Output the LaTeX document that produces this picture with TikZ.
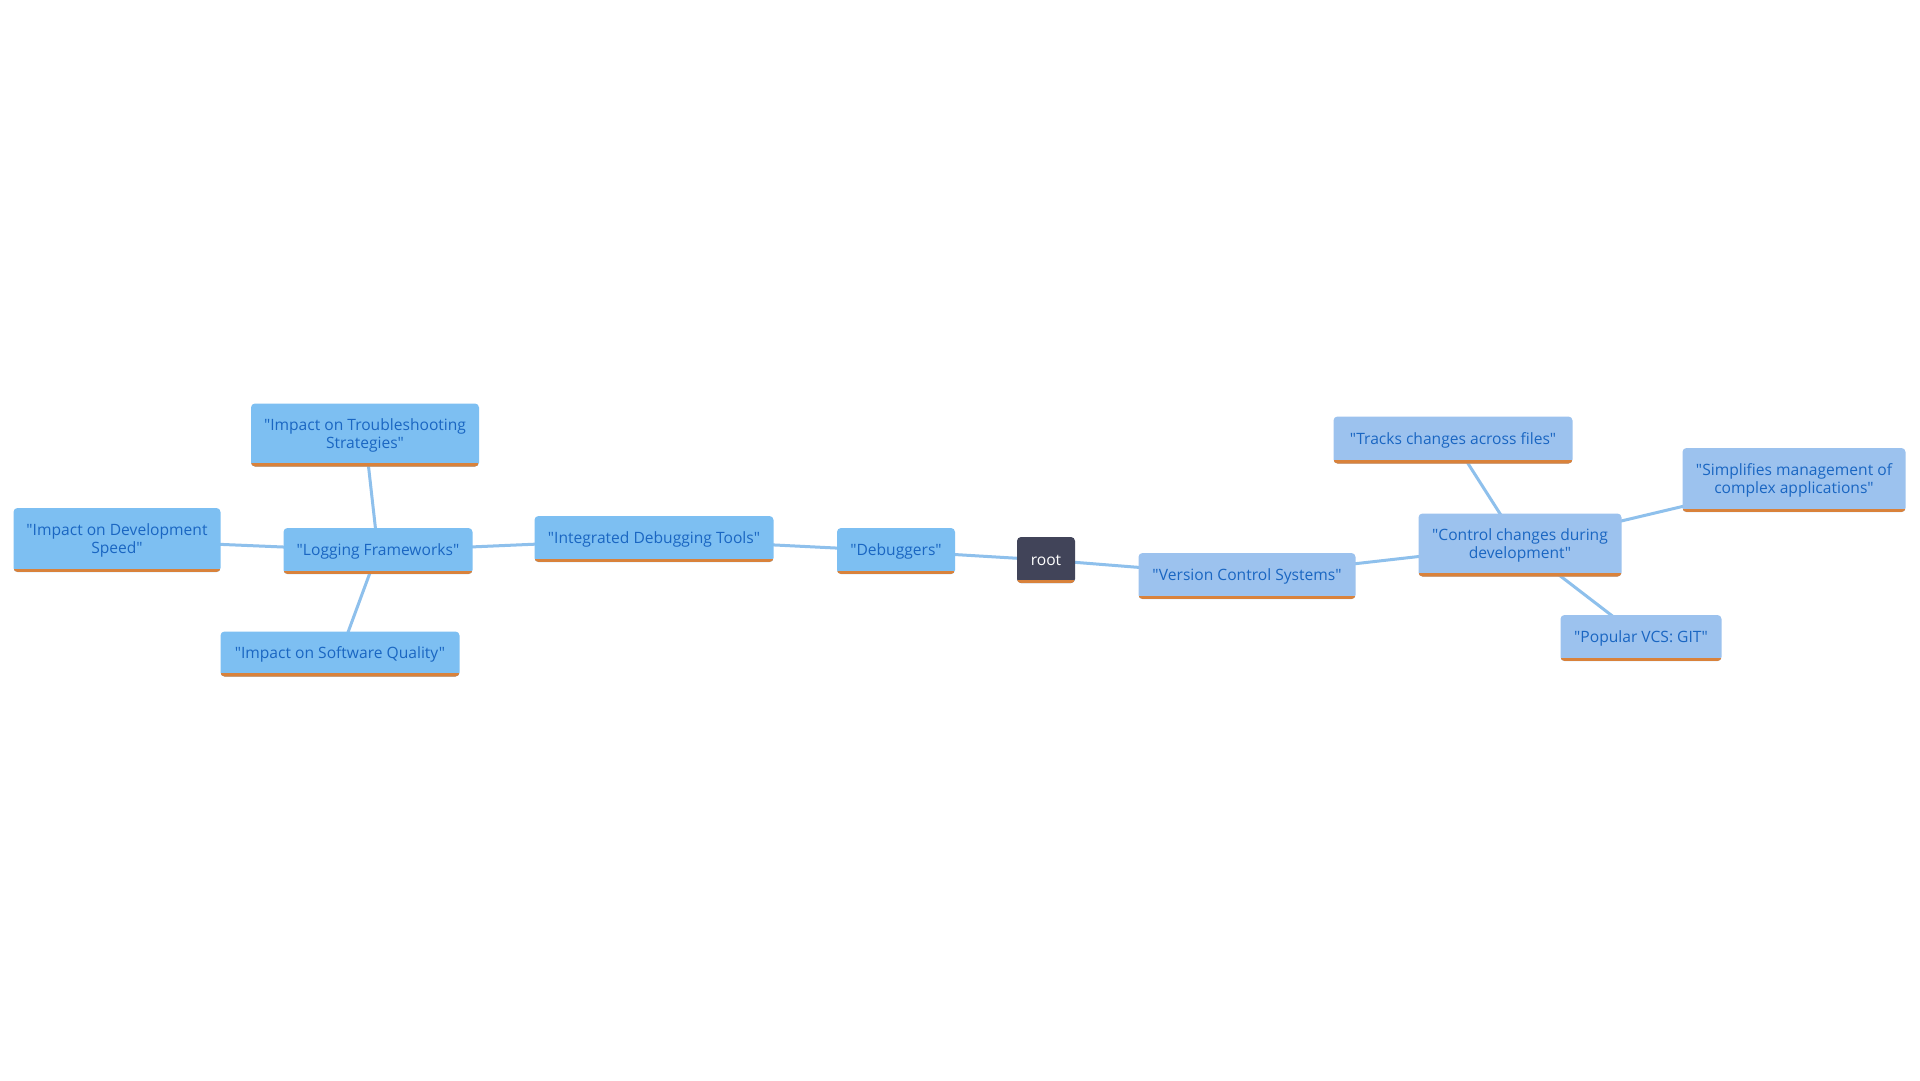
\documentclass[tikz,border=0pt]{standalone}
\usepackage{fontspec}
\setmainfont{Open Sans}[Ligatures=TeXOff]
\usetikzlibrary{backgrounds}

\definecolor{leafblue}{HTML}{7DBFF2}
\definecolor{vcsblue}{HTML}{9CC2EE}
\definecolor{textblue}{HTML}{1A66C2}
\definecolor{rootgray}{HTML}{414459}
\definecolor{barorange}{HTML}{D9823B}
\definecolor{linkblue}{HTML}{8EC0EC}

\begin{document}
\begin{tikzpicture}[
    x=1pt, y=-1pt,
    font=\fontsize{15.6}{18}\selectfont,
    box/.style={rounded corners=4pt, align=center, inner sep=0pt, minimum height=46pt,
        path picture={\fill[barorange, sharp corners] (path picture bounding box.south west)
            rectangle ([yshift=3.5pt]path picture bounding box.south east);}},
    dbox/.style={box, fill=leafblue, text=textblue},
    vbox/.style={box, fill=vcsblue, text=textblue},
    rbox/.style={box, fill=rootgray, text=white},
    link/.style={draw=linkblue, line width=3pt},
]
\useasboundingbox (0,0) rectangle (1920,1080);

% centre
\node[rbox, minimum width=58pt] (root) at (1046,560) {root};

% debugging branch
\node[dbox, minimum width=118pt] (debuggers) at (896,551) {"Debuggers"};
\node[dbox, minimum width=239pt] (idt) at (654,539) {"Integrated Debugging Tools"};
\node[dbox, minimum width=189pt] (logging) at (378,551) {"Logging Frameworks"};
\node[dbox, minimum width=228pt, minimum height=63pt] (trouble) at (365,435) {"Impact on Troubleshooting\\Strategies"};
\node[dbox, minimum width=207pt, minimum height=64pt] (speed) at (117,540) {"Impact on Development\\Speed"};
\node[dbox, minimum width=239pt, minimum height=45pt] (quality) at (340,654) {"Impact on Software Quality"};

% version control branch
\node[vbox, minimum width=217pt] (vcs) at (1247,576) {"Version Control Systems"};
\node[vbox, minimum width=203pt, minimum height=63pt] (control) at (1520,545) {"Control changes during\\development"};
\node[vbox, minimum width=239pt, minimum height=47pt] (tracks) at (1453,440) {"Tracks changes across files"};
\node[vbox, minimum width=223pt, minimum height=64pt] (simplifies) at (1794,480) {"Simplifies management of\\complex applications"};
\node[vbox, minimum width=161pt] (git) at (1641,638) {"Popular VCS: GIT"};

% links behind the boxes
\begin{scope}[on background layer]
    \fill[white] (0,0) rectangle (1920,1080);
    \foreach \a/\b in {root/debuggers, debuggers/idt, idt/logging, logging/trouble,
        logging/speed, logging/quality, root/vcs, vcs/control, control/tracks,
        control/simplifies, control/git} {
        \draw[link] (\a.center) -- (\b.center);
    }
\end{scope}
\end{tikzpicture}
\end{document}
